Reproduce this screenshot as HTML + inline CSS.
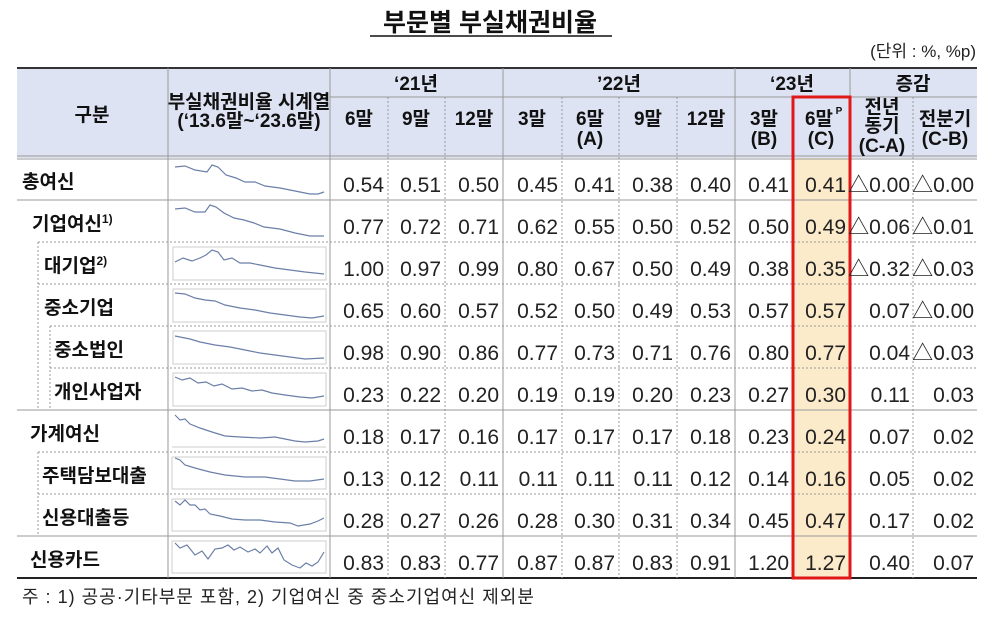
<!DOCTYPE html>
<html><head><meta charset="utf-8"><style>
body{margin:0;background:#fff;}
svg{display:block;font-family:"Liberation Sans","Noto Sans CJK KR",sans-serif;}
.n{font-size:21px;fill:#222;text-anchor:end;}
.h{font-size:19px;fill:#111;text-anchor:middle;font-weight:bold;}
.l{font-size:19px;fill:#111;font-weight:bold;}
.sp{fill:none;stroke:#6b7fa8;stroke-width:1.2;}
.d{stroke:#999;stroke-width:1;stroke-dasharray:2,2;}
</style></head><body>
<svg width="1000" height="620" viewBox="0 0 1000 620">
<text x="490" y="31" text-anchor="middle" font-size="25" font-weight="bold" fill="#111">부문별 부실채권비율</text>
<line x1="370" y1="36" x2="612" y2="36" stroke="#111" stroke-width="1.5"/>
<text x="976" y="57" text-anchor="end" font-size="17" fill="#222">(단위 : %, %p)</text>
<rect x="17" y="68" width="960" height="90" fill="#dee3f4"/>
<rect x="793" y="158" width="57" height="420" fill="#fcebcb"/>
<line x1="17" y1="68" x2="977" y2="68" stroke="#333" stroke-width="2"/>
<line x1="330" y1="97" x2="977" y2="97" stroke="#999"/>
<line x1="17" y1="156" x2="977" y2="156" stroke="#999"/>
<line x1="17" y1="159" x2="977" y2="159" stroke="#999"/>
<line x1="17" y1="578" x2="977" y2="578" stroke="#222" stroke-width="2"/>
<g stroke="#999">
<line x1="168" y1="68" x2="168" y2="578"/><line x1="330" y1="68" x2="330" y2="578"/>
<line x1="503" y1="68" x2="503" y2="578"/><line x1="735" y1="68" x2="735" y2="578"/>
<line x1="850" y1="68" x2="850" y2="578"/>
<line x1="17" y1="200" x2="977" y2="200"/><line x1="17" y1="410" x2="977" y2="410"/><line x1="17" y1="536" x2="977" y2="536"/>
</g>
<g class="d">
<line x1="388" y1="97" x2="388" y2="578"/><line x1="445" y1="97" x2="445" y2="578"/>
<line x1="562" y1="97" x2="562" y2="578"/><line x1="619" y1="97" x2="619" y2="578"/><line x1="677" y1="97" x2="677" y2="578"/>
<line x1="793" y1="97" x2="793" y2="578"/><line x1="913" y1="97" x2="913" y2="578"/>
<line x1="38" y1="242" x2="977" y2="242"/><line x1="38" y1="284" x2="977" y2="284"/>
<line x1="50" y1="326" x2="977" y2="326"/><line x1="50" y1="368" x2="977" y2="368"/>
<line x1="38" y1="452" x2="977" y2="452"/><line x1="38" y1="494" x2="977" y2="494"/>
<line x1="38" y1="242" x2="38" y2="410"/><line x1="50" y1="326" x2="50" y2="410"/>
<line x1="38" y1="452" x2="38" y2="536"/>
</g>
<rect x="793" y="97" width="57" height="481" fill="none" stroke="#e01818" stroke-width="3"/>
<text class="h" x="92" y="121">구분</text>
<text class="h" x="249" y="108" font-weight="normal" font-size="17">부실채권비율 시계열</text>
<text class="h" x="249" y="127" font-weight="normal" font-size="17">(‘13.6말~‘23.6말)</text>
<text class="h" x="416" y="90">‘21년</text><text class="h" x="619" y="90">’22년</text>
<text class="h" x="792" y="90">‘23년</text><text class="h" x="913" y="90">증감</text>
<g class="h">
<text x="359" y="125">6말</text><text x="416" y="125">9말</text><text x="474" y="125">12말</text>
<text x="532" y="125">3말</text><text x="590" y="125">6말</text><text x="590" y="145">(A)</text>
<text x="648" y="125">9말</text><text x="706" y="125">12말</text>
<text x="764" y="125">3말</text><text x="764" y="145">(B)</text>
<text x="819" y="125">6말</text><text x="839" y="114" font-size="10">P</text><text x="821" y="145">(C)</text>
<text x="882" y="113">전년</text><text x="882" y="132">동기</text><text x="882" y="152">(C-A)</text>
<text x="945" y="125">전분기</text><text x="945" y="145">(C-B)</text>
</g>
<g class="l">
<text x="22" y="188">총여신</text><text x="32" y="230">기업여신<tspan font-size="12" dy="-7">1)</tspan></text>
<text x="44" y="272">대기업<tspan font-size="12" dy="-7">2)</tspan></text><text x="44" y="314">중소기업</text>
<text x="54" y="356">중소법인</text><text x="54" y="398">개인사업자</text>
<text x="30" y="440">가계여신</text><text x="42" y="482">주택담보대출</text>
<text x="42" y="524">신용대출등</text><text x="30" y="566">신용카드</text>
</g>
<g fill="none" stroke="#ccc">
<rect x="173" y="247" width="153" height="33"/><rect x="173" y="289" width="153" height="33"/>
<rect x="173" y="331" width="153" height="33"/><rect x="173" y="373" width="153" height="33"/>
<line x1="172" y1="447" x2="326" y2="447"/><rect x="172" y="457" width="154" height="32"/>
<rect x="172" y="499" width="154" height="32"/><rect x="172" y="541" width="154" height="32"/>
</g>
<g class="sp">
<polyline points="175,167 185,166 195,170 207,172 212,165 218,167 226,175 236,178 245,182 255,182 265,186 280,188 295,191 310,194 318,194 324,192"/>
<polyline points="175,209 185,208 195,212 205,212 210,205 216,207 224,213 234,218 244,220 254,223 264,227 280,229 295,233 310,236 324,236"/>
<polyline points="175,262 183,258 192,261 200,258 206,255 212,250 218,252 224,260 232,258 240,263 250,263 260,265 275,268 290,270 305,272 324,274"/>
<polyline points="175,293 185,294 195,298 205,300 215,301 225,305 240,308 255,310 270,313 285,315 300,317 312,318 324,316"/>
<polyline points="175,336 190,339 200,342 215,345 230,347 245,350 260,353 275,355 290,357 305,359 324,358"/>
<polyline points="175,377 182,380 190,378 198,383 206,382 214,386 222,384 232,389 242,388 252,391 262,390 272,393 285,395 300,397 312,398 324,396"/>
<polyline points="175,415 180,420 185,419 190,424 200,428 212,432 225,436 240,437 260,438 275,437 285,439 295,441 305,442 318,441 324,439"/>
<polyline points="175,458 180,460 185,465 195,468 210,472 225,475 245,477 265,477 280,479 295,481 310,481 324,479"/>
<polyline points="175,501 180,505 185,500 190,505 195,505 200,510 205,509 210,514 220,516 232,519 245,520 260,520 275,522 290,523 298,526 310,524 318,521 324,518"/>
<polyline points="175,543 180,548 187,545 195,555 202,551 208,559 215,549 222,548 228,545 234,550 240,547 248,552 255,549 260,553 267,546 272,553 278,548 284,560 292,565 300,568 306,563 312,566 318,562 324,552"/>
</g>
<g class="n">
<text x="384" y="192">0.54</text><text x="441" y="192">0.51</text><text x="499" y="192">0.50</text><text x="558" y="192">0.45</text><text x="615" y="192">0.41</text><text x="673" y="192">0.38</text><text x="731" y="192">0.40</text><text x="789" y="192">0.41</text><text x="846" y="192">0.41</text><text x="910" y="192">△0.00</text><text x="974" y="192">△0.00</text>
<text x="384" y="234">0.77</text><text x="441" y="234">0.72</text><text x="499" y="234">0.71</text><text x="558" y="234">0.62</text><text x="615" y="234">0.55</text><text x="673" y="234">0.50</text><text x="731" y="234">0.52</text><text x="789" y="234">0.50</text><text x="846" y="234">0.49</text><text x="910" y="234">△0.06</text><text x="974" y="234">△0.01</text>
<text x="384" y="276">1.00</text><text x="441" y="276">0.97</text><text x="499" y="276">0.99</text><text x="558" y="276">0.80</text><text x="615" y="276">0.67</text><text x="673" y="276">0.50</text><text x="731" y="276">0.49</text><text x="789" y="276">0.38</text><text x="846" y="276">0.35</text><text x="910" y="276">△0.32</text><text x="974" y="276">△0.03</text>
<text x="384" y="318">0.65</text><text x="441" y="318">0.60</text><text x="499" y="318">0.57</text><text x="558" y="318">0.52</text><text x="615" y="318">0.50</text><text x="673" y="318">0.49</text><text x="731" y="318">0.53</text><text x="789" y="318">0.57</text><text x="846" y="318">0.57</text><text x="910" y="318">0.07</text><text x="974" y="318">△0.00</text>
<text x="384" y="360">0.98</text><text x="441" y="360">0.90</text><text x="499" y="360">0.86</text><text x="558" y="360">0.77</text><text x="615" y="360">0.73</text><text x="673" y="360">0.71</text><text x="731" y="360">0.76</text><text x="789" y="360">0.80</text><text x="846" y="360">0.77</text><text x="910" y="360">0.04</text><text x="974" y="360">△0.03</text>
<text x="384" y="402">0.23</text><text x="441" y="402">0.22</text><text x="499" y="402">0.20</text><text x="558" y="402">0.19</text><text x="615" y="402">0.19</text><text x="673" y="402">0.20</text><text x="731" y="402">0.23</text><text x="789" y="402">0.27</text><text x="846" y="402">0.30</text><text x="910" y="402">0.11</text><text x="974" y="402">0.03</text>
<text x="384" y="444">0.18</text><text x="441" y="444">0.17</text><text x="499" y="444">0.16</text><text x="558" y="444">0.17</text><text x="615" y="444">0.17</text><text x="673" y="444">0.17</text><text x="731" y="444">0.18</text><text x="789" y="444">0.23</text><text x="846" y="444">0.24</text><text x="910" y="444">0.07</text><text x="974" y="444">0.02</text>
<text x="384" y="486">0.13</text><text x="441" y="486">0.12</text><text x="499" y="486">0.11</text><text x="558" y="486">0.11</text><text x="615" y="486">0.11</text><text x="673" y="486">0.11</text><text x="731" y="486">0.12</text><text x="789" y="486">0.14</text><text x="846" y="486">0.16</text><text x="910" y="486">0.05</text><text x="974" y="486">0.02</text>
<text x="384" y="528">0.28</text><text x="441" y="528">0.27</text><text x="499" y="528">0.26</text><text x="558" y="528">0.28</text><text x="615" y="528">0.30</text><text x="673" y="528">0.31</text><text x="731" y="528">0.34</text><text x="789" y="528">0.45</text><text x="846" y="528">0.47</text><text x="910" y="528">0.17</text><text x="974" y="528">0.02</text>
<text x="384" y="570">0.83</text><text x="441" y="570">0.83</text><text x="499" y="570">0.77</text><text x="558" y="570">0.87</text><text x="615" y="570">0.87</text><text x="673" y="570">0.83</text><text x="731" y="570">0.91</text><text x="789" y="570">1.20</text><text x="846" y="570">1.27</text><text x="910" y="570">0.40</text><text x="974" y="570">0.07</text>
</g>
<text x="22" y="603" font-size="18" fill="#222" letter-spacing="1">주 : 1) 공공·기타부문 포함,  2) 기업여신 중 중소기업여신 제외분</text>
</svg>
</body></html>
